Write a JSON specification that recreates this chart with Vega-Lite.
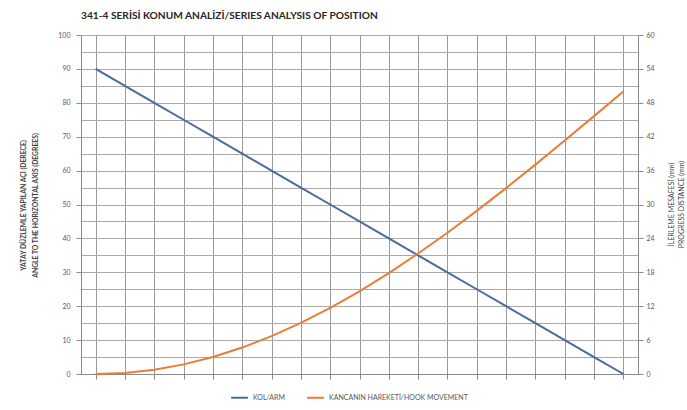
{
  "$schema": "https://vega.github.io/schema/vega-lite/v6.json",
  "width": 557,
  "height": 339,
  "autosize": {"type": "none"},
  "padding": {"left": 81, "top": 35, "right": 49, "bottom": 36},
  "background": "white",
  "title": {
    "text": "341-4 SERİSİ KONUM ANALİZİ/SERIES ANALYSIS OF POSITION",
    "anchor": "start",
    "frame": "group",
    "font": "Lato",
    "fontSize": 10.2,
    "fontWeight": "bold",
    "color": "#262626",
    "offset": 10
  },
  "config": {"view": {"stroke": null}, "font": "Lato"},
  "data": {
    "values": [
      {"pos": 1, "angle": 90, "move": 0},
      {"pos": 2, "angle": 85, "move": 0.19},
      {"pos": 3, "angle": 80, "move": 0.76},
      {"pos": 4, "angle": 75, "move": 1.7},
      {"pos": 5, "angle": 70, "move": 3.02},
      {"pos": 6, "angle": 65, "move": 4.68},
      {"pos": 7, "angle": 60, "move": 6.7},
      {"pos": 8, "angle": 55, "move": 9.04},
      {"pos": 9, "angle": 50, "move": 11.7},
      {"pos": 10, "angle": 45, "move": 14.64},
      {"pos": 11, "angle": 40, "move": 17.86},
      {"pos": 12, "angle": 35, "move": 21.32},
      {"pos": 13, "angle": 30, "move": 25.0},
      {"pos": 14, "angle": 25, "move": 28.87},
      {"pos": 15, "angle": 20, "move": 32.9},
      {"pos": 16, "angle": 15, "move": 37.06},
      {"pos": 17, "angle": 10, "move": 41.32},
      {"pos": 18, "angle": 5, "move": 45.64},
      {"pos": 19, "angle": 0, "move": 50.0}
    ]
  },
  "layer": [
    {
      "mark": {"type": "line", "strokeWidth": 2},
      "encoding": {
        "x": {
          "field": "pos",
          "type": "ordinal",
          "scale": {"paddingInner": 0, "paddingOuter": 0},
          "axis": {
            "title": null,
            "labels": false,
            "bandPosition": 0,
            "grid": true,
            "gridColor": "#9a9a9a",
            "gridWidth": 1,
            "ticks": true,
            "tickSize": 5,
            "tickColor": "#8a8a8a",
            "domainColor": "#8a8a8a"
          }
        },
        "y": {
          "field": "angle",
          "type": "quantitative",
          "scale": {"domain": [0, 100], "nice": false},
          "axis": {
            "orient": "left",
            "values": [0, 5, 10, 15, 20, 25, 30, 35, 40, 45, 50, 55, 60, 65, 70, 75, 80, 85, 90, 95, 100],
            "labelExpr": "datum.value % 10 === 0 ? datum.label : ''",
            "tickOpacity": {"condition": {"test": "datum.value % 10 !== 0", "value": 0}, "value": 1},
            "tickSize": 5,
            "tickColor": "#8a8a8a",
            "labelPadding": 6,
            "labelFontSize": 7,
            "labelColor": "#595959",
            "labelFont": "Lato",
            "grid": true,
            "gridColor": "#aaaaaa",
            "domainColor": "#8a8a8a",
            "title": ["YATAY DÜZLEMLE YAPILAN AÇI (DERECE)", "ANGLE TO THE HORIZONTAL AXIS  (DEGREES)"],
            "titleFont": "Lato",
            "titleFontSize": 6.8,
            "titleFontWeight": "bold",
            "titleColor": "#404040",
            "titleLineHeight": 12,
            "titleX": -55,
            "titleY": 170,
            "titleAlign": "center",
            "titleAngle": -90
          }
        },
        "color": {
          "datum": "KOL/ARM",
          "type": "nominal",
          "scale": {
            "domain": ["KOL/ARM", "KANCANIN HAREKETİ/HOOK MOVEMENT"],
            "range": ["#4a6b9c", "#ea7d35"]
          },
          "legend": {
            "title": null,
            "orient": "none",
            "direction": "horizontal",
            "legendX": 149,
            "legendY": 353,
            "symbolType": "stroke",
            "symbolSize": 280,
            "symbolStrokeWidth": 2,
            "labelFontSize": 7,
            "labelFont": "Lato",
            "labelColor": "#595959",
            "columnPadding": 18
          }
        }
      }
    },
    {
      "mark": {"type": "line", "strokeWidth": 2},
      "encoding": {
        "x": {"field": "pos", "type": "ordinal"},
        "y": {
          "field": "move",
          "type": "quantitative",
          "scale": {"domain": [0, 60], "nice": false},
          "axis": {
            "orient": "right",
            "values": [0, 6, 12, 18, 24, 30, 36, 42, 48, 54, 60],
            "grid": false,
            "tickSize": 5,
            "tickColor": "#8a8a8a",
            "labelPadding": 3,
            "labelFontSize": 7,
            "labelColor": "#595959",
            "labelFont": "Lato",
            "domainColor": "#8a8a8a",
            "title": ["İLERLEME MESAFESİ (mm)", "PROGRESS DISTANCE (mm)"],
            "titleFont": "Lato",
            "titleFontSize": 7,
            "titleFontWeight": "normal",
            "titleColor": "#404040",
            "titleLineHeight": 10,
            "titleX": 36,
            "titleY": 169,
            "titleAlign": "center",
            "titleAngle": -90
          }
        },
        "color": {"datum": "KANCANIN HAREKETİ/HOOK MOVEMENT", "type": "nominal"}
      }
    }
  ],
  "resolve": {"scale": {"y": "independent"}}
}
